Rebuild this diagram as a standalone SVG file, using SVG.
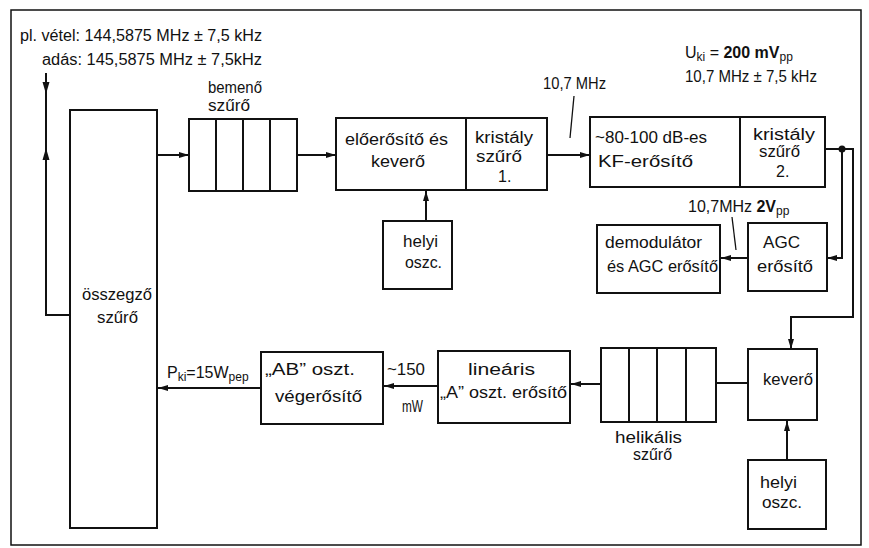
<svg xmlns="http://www.w3.org/2000/svg" width="869" height="548" viewBox="0 0 869 548">
<defs>
<style>
.b{fill:#fff;stroke:#111;stroke-width:2}
.c{fill:none;stroke:#111;stroke-width:2}
.l{fill:none;stroke:#111;stroke-width:1.3}
text{font-family:"Liberation Sans","DejaVu Sans",sans-serif;font-size:16px;fill:#111}
.s{font-size:12px}
.bd{font-weight:bold}
</style>
<marker id="ah" markerUnits="userSpaceOnUse" markerWidth="11" markerHeight="7" refX="10" refY="3.5" orient="auto">
<path d="M0,0.5 L10,3.5 L0,6.5 z" fill="#111"/>
</marker>
</defs>
<rect x="11" y="10" width="850" height="535" fill="none" stroke="#111" stroke-width="1.5"/>
<g id="labels-top">
<text x="20" y="41" textLength="242" lengthAdjust="spacingAndGlyphs">pl. vétel: 144,5875 MHz ± 7,5 kHz</text>
<text x="42" y="65" textLength="220" lengthAdjust="spacingAndGlyphs">adás: 145,5875 MHz ± 7,5kHz</text>
</g>
<g id="connectors">
<path class="c" d="M46,73 V315 H70"/>
<polygon points="42.5,82 49.5,82 46,94" fill="#111"/>
<polygon points="42.5,160 49.5,160 46,148" fill="#111"/>
<path class="c" d="M157,155 H189" marker-end="url(#ah)"/>
<path class="c" d="M297,155 H336" marker-end="url(#ah)"/>
<path class="c" d="M426,221 V191" marker-end="url(#ah)"/>
<path class="c" d="M547,155 H590" marker-end="url(#ah)"/>
<path class="l" d="M574,96 L570,138"/>
<path class="c" d="M825,149 H853 V317 H791 V349" marker-end="url(#ah)"/>
<circle cx="842" cy="149" r="3.5" fill="#111"/>
<path class="c" d="M842,149 V258 H827" marker-end="url(#ah)"/>
<path class="c" d="M748,258 H721" marker-end="url(#ah)"/>
<path class="l" d="M732,217 L736,250"/>
<path class="c" d="M787,460 V421" marker-end="url(#ah)"/>
<path class="c" d="M716,383 H748"/>
<path class="c" d="M601,384 H571" marker-end="url(#ah)"/>
<path class="c" d="M438,386 H384" marker-end="url(#ah)"/>
<path class="c" d="M261,388 H158" marker-end="url(#ah)"/>
</g>
<g id="osszegzo-szuro">
<rect class="b" x="70" y="110" width="87" height="418"/>
<text x="82" y="300" textLength="70" lengthAdjust="spacingAndGlyphs">összegző</text>
<text x="97" y="323" textLength="41" lengthAdjust="spacingAndGlyphs">szűrő</text>
</g>
<g id="bemeno-szuro">
<rect class="b" x="189" y="119" width="108" height="72"/>
<path class="c" d="M216,119 V191 M243,119 V191 M270,119 V191"/>
<text x="208" y="93" textLength="54" lengthAdjust="spacingAndGlyphs">bemenő</text>
<text x="208" y="111" textLength="42" lengthAdjust="spacingAndGlyphs">szűrő</text>
</g>
<g id="eloerosito-es-kevero">
<rect class="b" x="336" y="118" width="130" height="72"/>
<text x="345" y="145" textLength="103" lengthAdjust="spacingAndGlyphs">előerősítő és</text>
<text x="371" y="167" textLength="54" lengthAdjust="spacingAndGlyphs">keverő</text>
</g>
<g id="kristaly-szuro-1">
<rect class="b" x="466" y="118" width="81" height="72"/>
<text x="475" y="143" textLength="58" lengthAdjust="spacingAndGlyphs">kristály</text>
<text x="476" y="162" textLength="46" lengthAdjust="spacingAndGlyphs">szűrő</text>
<text x="498" y="182">1.</text>
</g>
<g id="helyi-oszc-1">
<rect class="b" x="383" y="221" width="69" height="68"/>
<text x="403" y="247" textLength="35" lengthAdjust="spacingAndGlyphs">helyi</text>
<text x="405" y="268" textLength="37" lengthAdjust="spacingAndGlyphs">oszc.</text>
</g>
<g id="label-10-7">
<text x="543" y="89" textLength="63" lengthAdjust="spacingAndGlyphs">10,7 MHz</text>
</g>
<g id="label-uki">
<text x="685" y="58">U<tspan class="s" dy="3">ki</tspan><tspan dy="-3"> = </tspan><tspan class="bd">200 mV</tspan><tspan class="s" dy="3">pp</tspan></text>
<text x="685" y="82" textLength="132" lengthAdjust="spacingAndGlyphs">10,7 MHz ± 7,5 kHz</text>
</g>
<g id="kf-erosito">
<rect class="b" x="590" y="117" width="150" height="70"/>
<text x="595" y="143" textLength="112" lengthAdjust="spacingAndGlyphs">~80-100 dB-es</text>
<text x="598" y="167" textLength="95" lengthAdjust="spacingAndGlyphs">KF-erősítő</text>
</g>
<g id="kristaly-szuro-2">
<rect class="b" x="740" y="117" width="85" height="70"/>
<text x="753" y="140" textLength="62" lengthAdjust="spacingAndGlyphs">kristály</text>
<text x="759" y="157" textLength="41" lengthAdjust="spacingAndGlyphs">szűrő</text>
<text x="776" y="177">2.</text>
</g>
<g id="label-2vpp">
<text x="688" y="212">10,7MHz <tspan class="bd">2V</tspan><tspan class="s" dy="3">pp</tspan></text>
</g>
<g id="demodulator">
<rect class="b" x="597" y="225" width="123" height="68"/>
<text x="605" y="248" textLength="97" lengthAdjust="spacingAndGlyphs">demodulátor</text>
<text x="607" y="272" textLength="111" lengthAdjust="spacingAndGlyphs">és AGC erősítő</text>
</g>
<g id="agc-erosito">
<rect class="b" x="748" y="223" width="79" height="68"/>
<text x="763" y="248" textLength="37" lengthAdjust="spacingAndGlyphs">AGC</text>
<text x="757" y="272" textLength="56" lengthAdjust="spacingAndGlyphs">erősítő</text>
</g>
<g id="kevero">
<rect class="b" x="748" y="349" width="69" height="71"/>
<text x="763" y="385" textLength="50" lengthAdjust="spacingAndGlyphs">keverő</text>
</g>
<g id="helyi-oszc-2">
<rect class="b" x="748" y="460" width="78" height="69"/>
<text x="760" y="488" textLength="37" lengthAdjust="spacingAndGlyphs">helyi</text>
<text x="762" y="508" textLength="40" lengthAdjust="spacingAndGlyphs">oszc.</text>
</g>
<g id="helikalis-szuro">
<rect class="b" x="601" y="348" width="115" height="74"/>
<path class="c" d="M629,348 V422 M657,348 V422 M686,348 V422"/>
<text x="615" y="443" textLength="67" lengthAdjust="spacingAndGlyphs">helikális</text>
<text x="633" y="460" textLength="39" lengthAdjust="spacingAndGlyphs">szűrő</text>
</g>
<g id="linearis-erosito">
<rect class="b" x="438" y="351" width="132" height="72"/>
<text x="468" y="375" textLength="67" lengthAdjust="spacingAndGlyphs">lineáris</text>
<text x="440" y="398" textLength="127" lengthAdjust="spacingAndGlyphs">„A” oszt. erősítő</text>
</g>
<g id="label-150mw">
<text x="387" y="375" textLength="38" lengthAdjust="spacingAndGlyphs">~150</text>
<text x="402" y="412" textLength="21" lengthAdjust="spacingAndGlyphs">mW</text>
</g>
<g id="vegerosito">
<rect class="b" x="261" y="352" width="122" height="72"/>
<text x="265" y="375" textLength="90" lengthAdjust="spacingAndGlyphs">„AB” oszt.</text>
<text x="275" y="402" textLength="87" lengthAdjust="spacingAndGlyphs">végerősítő</text>
</g>
<g id="label-pki">
<text x="167" y="378">P<tspan class="s" dy="3">ki</tspan><tspan dy="-3">=15W</tspan><tspan class="s" dy="3">pep</tspan></text>
</g>
</svg>
